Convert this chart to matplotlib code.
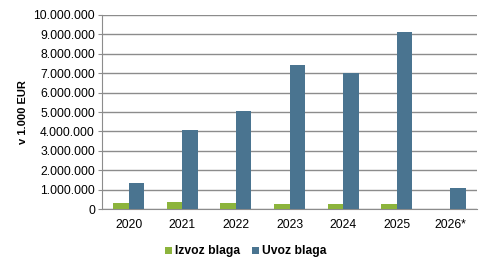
import numpy as np
import matplotlib.pyplot as plt
from matplotlib.ticker import FuncFormatter

plt.rcParams['font.family'] = ['Liberation Sans', 'DejaVu Sans']

years = ['2020', '2021', '2022', '2023', '2024', '2025', '2026*']
izvoz = [300000, 350000, 300000, 270000, 270000, 240000, 15000]
uvoz = [1350000, 4050000, 5050000, 7420000, 7030000, 9120000, 1080000]

green = '#8cb43c'
blue = '#4a7490'
grid_c = '#8c8c8c'

fig = plt.figure(figsize=(4.92, 2.67), dpi=100)
ax = fig.add_axes([0.207, 0.217, 0.763, 0.727])

x = np.arange(len(years))
w = 0.29
ax.bar(x - w / 2, izvoz, w, color=green, label='Izvoz blaga', zorder=3)
ax.bar(x + w / 2, uvoz, w, color=blue, label='Uvoz blaga', zorder=3)

ax.set_xlim(-0.5, len(years) - 0.5)
ax.set_ylim(0, 10000000)
ax.set_yticks(np.arange(0, 10000001, 1000000))
ax.yaxis.set_major_formatter(FuncFormatter(lambda v, p: f'{int(v):,}'.replace(',', '.')))
ax.set_xticks(x)
ax.set_xticklabels(years)
ax.grid(axis='y', color=grid_c, linewidth=1.0, zorder=0)

for s in ['top', 'right']:
    ax.spines[s].set_visible(False)
ax.spines['left'].set_color(grid_c)
ax.spines['bottom'].set_color(grid_c)
ax.tick_params(axis='y', length=3, color=grid_c, labelsize=8.7, pad=2)
ax.tick_params(axis='x', length=0, labelsize=8.7, pad=7)

ax.set_ylabel('v 1.000 EUR', fontsize=8, fontweight='bold', labelpad=4)

fig.legend(loc='lower center', bbox_to_anchor=(0.5, -0.005), ncol=2, frameon=False,
           handlelength=0.55, handleheight=0.55, handletextpad=0.25,
           columnspacing=1.0, prop={'weight': 'bold', 'size': 8.7})

fig.savefig('out.png', dpi=100)
